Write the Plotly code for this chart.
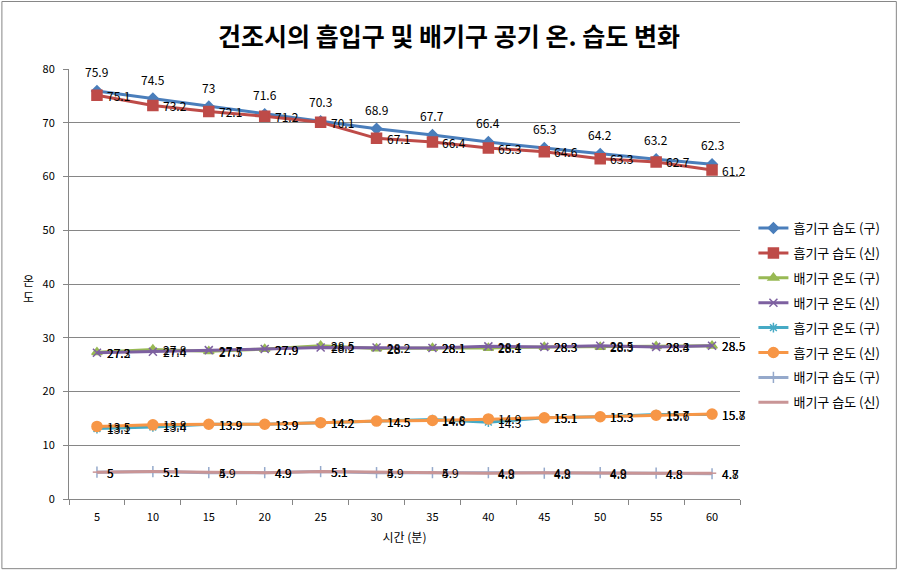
import plotly.graph_objects as go

minutes = ["5", "10", "15", "20", "25", "30", "35", "40", "45", "50", "55", "60"]

series_names = ["흡기구 습도 (구)", "흡기구 습도 (신)", "배기구 온도 (구)", "배기구 온도 (신)",
                "흡기구 온도 (구)", "흡기구 온도 (신)", "배기구 습도 (구)", "배기구 습도 (신)"]

intake_hum_old = [75.9, 74.5, 73, 71.6, 70.3, 68.9, 67.7, 66.4, 65.3, 64.2, 63.2, 62.3]
intake_hum_new = [75.1, 73.2, 72.1, 71.2, 70.1, 67.1, 66.4, 65.3, 64.6, 63.3, 62.7, 61.2]
exhaust_temp_old = [27.3, 27.8, 27.5, 27.9, 28.5, 28, 28.1, 28.1, 28.3, 28.3, 28.4, 28.5]
exhaust_temp_new = [27.2, 27.4, 27.7, 27.9, 28.2, 28.2, 28.1, 28.4, 28.3, 28.5, 28.3, 28.5]
intake_temp_old = [13.1, 13.4, 13.9, 13.9, 14.2, 14.5, 14.8, 14.3, 15.1, 15.3, 15.7, 15.7]
intake_temp_new = [13.5, 13.8, 13.9, 13.9, 14.2, 14.5, 14.6, 14.9, 15.1, 15.3, 15.6, 15.8]
exhaust_hum_old = [5, 5.1, 4.9, 4.9, 5.1, 4.9, 4.9, 4.9, 4.8, 4.9, 4.8, 4.7]
exhaust_hum_new = [5, 5.1, 5, 4.9, 5.1, 5, 5, 4.8, 4.9, 4.8, 4.8, 4.8]

y_ticks = [0, 10, 20, 30, 40, 50, 60, 70, 80]

data = [intake_hum_old, intake_hum_new, exhaust_temp_old, exhaust_temp_new,
        intake_temp_old, intake_temp_new, exhaust_hum_old, exhaust_hum_new]
colors = ["#4A7EBB", "#BE4B48", "#98B954", "#7D60A0", "#46AAC5", "#F79646", "#95A9CB", "#C99596"]
symbols = ["diamond", "square", "triangle-up", "x-thin-open", "asterisk-open", "circle", "line-ns-open", "line-ew-open"]
msizes = [8, 10, 9, 8, 8, 10, 8, 6]

label_font = dict(family="Noto Sans CJK KR, DejaVu Sans", size=12, color="#000000")

fig = go.Figure()
for i, (name, vals) in enumerate(zip(series_names, data)):
    fig.add_trace(go.Scatter(
        x=minutes, y=vals, name=name, mode="lines+markers",
        line=dict(color=colors[i], width=3),
        marker=dict(symbol=symbols[i], size=msizes[i], color=colors[i],
                    line=dict(color=colors[i], width=1.5)),
        legendgroup=name,
    ))
    for j, yv in enumerate(vals):
        if i == 0:
            fig.add_annotation(x=j, y=yv, text=str(yv), showarrow=False,
                               xanchor="center", yanchor="bottom", yshift=9,
                               font=label_font)
        else:
            fig.add_annotation(x=j, y=yv, text=str(yv), showarrow=False,
                               xanchor="left", yanchor="middle", xshift=8,
                               font=label_font)

fig.update_layout(
    width=898, height=570,
    margin=dict(l=69, r=158, t=69, b=71),
    paper_bgcolor="white", plot_bgcolor="white",
    font=dict(family="Noto Sans CJK KR, DejaVu Sans", size=11, color="#000000"),
    title=dict(text="<b>건조시의 흡입구 및 배기구 공기 온. 습도 변화</b>",
               x=0.5, xanchor="center", y=0.935, yanchor="middle",
               font=dict(family="Noto Sans CJK KR", size=25, color="#000000")),
    showlegend=True,
    legend=dict(x=1.02, xanchor="left", y=0.665, yanchor="top",
                font=dict(size=13), tracegroupgap=5, bgcolor="rgba(0,0,0,0)"),
    xaxis=dict(type="category", range=[-0.5, 11.5], tickson="boundaries",
               ticks="outside", ticklen=5, tickcolor="#868686",
               ticklabelstandoff=8,
               showline=True, linecolor="#868686", linewidth=1,
               showgrid=False, zeroline=False,
               title=dict(text="시간 (분)", font=dict(size=12), standoff=10)),
    yaxis=dict(range=[0, 80], tickvals=y_ticks, ticks="outside", ticklen=5,
               tickcolor="#868686", ticklabelstandoff=6,
               showline=True, linecolor="#868686", linewidth=1,
               showgrid=True, gridcolor="#868686", gridwidth=1, zeroline=False),
)

fig.add_annotation(text="온<br>도", xref="paper", yref="paper", x=-0.06, y=0.49,
                   showarrow=False, font=dict(size=12), xanchor="center", yanchor="middle")

fig.add_shape(type="rect", xref="paper", yref="paper",
              x0=-0.1, x1=1.233, y0=-0.162, y1=1.157,
              line=dict(color="#868686", width=1), layer="below")

fig.write_html("out.html")
